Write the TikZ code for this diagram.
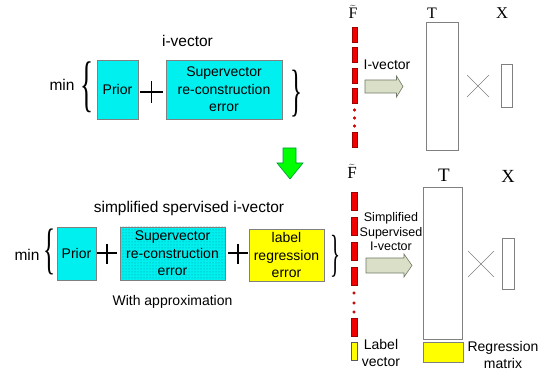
\documentclass[tikz,border=0pt]{standalone}
\usepackage{fontspec}
\usepackage{graphicx}
\setmainfont{Liberation Sans}
\newfontfamily\serifA{Liberation Serif}
\usetikzlibrary{patterns}
\definecolor{cy}{RGB}{0,240,240}
\definecolor{bd}{RGB}{128,128,128}
\definecolor{yl}{RGB}{255,255,0}
\definecolor{rd}{RGB}{240,0,0}
\definecolor{rdb}{RGB}{160,0,0}
\definecolor{arr}{RGB}{218,224,200}
\definecolor{arrb}{RGB}{110,120,100}
\definecolor{gr}{RGB}{0,255,0}
\definecolor{grb}{RGB}{0,150,60}
\definecolor{dotc}{RGB}{0,140,150}
\newcommand{\lbr}[2]{\resizebox*{#1}{#2}{\fontsize{40}{40}\serifA\{}}
\newcommand{\rbr}[2]{\resizebox*{#1}{#2}{\fontsize{40}{40}\serifA\}}}
\begin{document}
\begin{tikzpicture}[x=1pt,y=-1pt,
  txt/.style={font=\fontsize{14}{17}\selectfont, inner sep=0pt, align=center},
  small/.style={font=\fontsize{12.5}{14.5}\selectfont, inner sep=0pt, align=center},
  ttl/.style={font=\fontsize{15.5}{18}\selectfont, inner sep=0pt},
  boxbase/.style={draw=bd, line width=0.8pt, inner sep=0pt, align=center, font=\fontsize{14}{17.5}\selectfont},
  cbox/.style={boxbase, fill=cy},
  dbox/.style={boxbase, preaction={fill=cy}, pattern=dots, pattern color=dotc},
  ybox/.style={boxbase, fill=yl},
  mat/.style={draw=bd, line width=0.8pt, fill=white, inner sep=0pt},
  bar/.style={draw=rdb, fill=rd, line width=0.4pt},
  lab/.style={draw=bd!70!black, fill=yl, line width=0.4pt},
  dotr/.style={fill=rd, draw=rdb, line width=0.3pt},
  plus/.style={line width=1.4pt, black},
  cross/.style={draw=bd, line width=0.6pt},
  fatarrow/.style={draw=arrb, fill=arr, line width=0.6pt},
  serif/.style={inner sep=0pt},
  brace/.style={inner sep=0pt}
]
\useasboundingbox (0,0) rectangle (549,371);

% ---------- top equation ----------
\node[ttl] (t1) at (187.5,41) {i-vector};
\node[ttl] (min1) at (62,85) {min};
\node[brace] (lb1) at (86.5,87.5) {\lbr{13pt}{51pt}};
\node[cbox, minimum width=41pt, minimum height=59pt] (prior1) at (117.5,89.5) {Prior};
\node[cbox, minimum width=116pt, minimum height=59pt] (sup1) at (224,89.5) {Supervector\\re-construction\\error};
\node[brace] (rb1) at (296,93.5) {\rbr{12pt}{47pt}};
\draw[plus] (140,92) -- (163,92) (151.5,81) -- (151.5,103);

% ---------- green arrow ----------
\draw[draw=grb, fill=gr, line width=0.6pt] (283,148) -- (296,148) -- (296,163) -- (303,163) -- (290,179) -- (277,163) -- (283,163) -- cycle;

% ---------- bottom equation ----------
\node[ttl] (t2) at (189,208) {simplified spervised i-vector};
\node[ttl] (min2) at (27,255) {min};
\node[brace] (lb2) at (49,252) {\lbr{12pt}{46pt}};
\node[cbox, minimum width=39pt, minimum height=53pt] (prior2) at (76.5,253.5) {Prior};
\node[dbox, minimum width=105pt, minimum height=53pt] (sup2) at (172.5,253.5) {Supervector\\re-construction\\error};
\node[ybox, minimum width=75pt, minimum height=52pt] (lab2) at (286.5,255) {label\\regression\\error};
\node[brace] (rb2) at (335,256) {\rbr{10pt}{42pt}};
\draw[plus] (97,253) -- (117,253) (107,244) -- (107,264);
\draw[plus] (228,253) -- (248,253) (238,244) -- (238,264);
\node[txt] (approx) at (172.5,302) {With approximation};

% ---------- top right: F, T, x ----------
\node[serif, font=\fontsize{16}{16}\selectfont] (F1) at (353,11.5) {$\widetilde{\hbox{\serifA F}}$};
\node[serif, font=\fontsize{16}{16}\serifA] (T1) at (432,13) {T};
\node[serif, font=\fontsize{16.5}{16}\serifA] (X1) at (502,13) {X};
\foreach \a/\b in {27/42, 47.5/62.5, 68/83, 88.5/103.5, 132/147}
  \draw[bar] (352,\a) rectangle (357,\b);
\foreach \c in {110,118,126}
  \draw[dotr] (354.5,\c) circle (1.4pt);
\draw[fatarrow] (365,80) -- (396.5,80) -- (396.5,76) -- (403,86.5) -- (396.5,97) -- (396.5,93) -- (365,93) -- cycle;
\node[txt] (iv1) at (387,65) {I-vector};
\node[mat, minimum width=32pt, minimum height=128pt] (Tm1) at (442,86) {};
\draw[cross] (467,75) -- (489,97) (467,97) -- (489,75);
\node[mat, minimum width=11pt, minimum height=43pt] (xm1) at (506.5,85.5) {};

% ---------- bottom right ----------
\node[serif, font=\fontsize{17}{17}\selectfont] (F2) at (352,171.5) {$\widetilde{\hbox{\serifA F}}$};
\node[serif, font=\fontsize{19}{19}\serifA] (T2) at (444,175) {T};
\node[serif, font=\fontsize{18.5}{19}\serifA] (X2) at (508,176) {X};
\foreach \a/\b in {192/210, 217/235, 242/260, 267/285, 318/336}
  \draw[bar] (351,\a) rectangle (357,\b);
\foreach \c in {293,303,312}
  \draw[dotr] (354,\c) circle (1.4pt);
\draw[lab] (351,342) rectangle (357,360);
\draw[fatarrow] (366,258) -- (404,258) -- (404,254) -- (412,265.5) -- (404,277) -- (404,273) -- (366,273) -- cycle;
\node[small] (iv2) at (391,232) {Simplified\\Supervised\\I-vector};
\node[mat, minimum width=39pt, minimum height=152pt] (Tm2) at (442.5,263) {};
\node[ybox, minimum width=40pt, minimum height=20pt] (Rm) at (443,352) {};
\draw[cross] (468,251) -- (494,277) (468,277) -- (494,251);
\node[mat, minimum width=12pt, minimum height=51pt] (xm2) at (508,263.5) {};
\node[txt] (lv) at (381,353) {Label\\vector};
\node[txt] (rmt) at (503,355) {Regression\\matrix};
\end{tikzpicture}
\end{document}
